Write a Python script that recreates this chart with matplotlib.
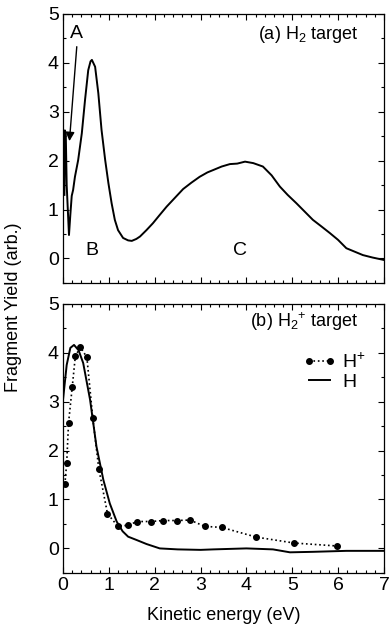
import numpy as np
import matplotlib.pyplot as plt
from matplotlib.ticker import MultipleLocator

plt.rcParams['font.family'] = ['Liberation Sans', 'DejaVu Sans']
plt.rcParams['mathtext.fontset'] = 'custom'
plt.rcParams['mathtext.rm'] = 'Liberation Sans'
plt.rcParams['mathtext.it'] = 'Liberation Sans:italic'
plt.rcParams['font.size'] = 12

# (a) H2 target: fragment yield vs kinetic energy
h2_energy = [0.03, 0.04, 0.06, 0.08, 0.13, 0.16, 0.19, 0.22, 0.26, 0.33, 0.41, 0.48,
             0.55, 0.60, 0.63, 0.70, 0.77, 0.84, 0.92, 0.99, 1.06, 1.13, 1.20,
             1.31, 1.42, 1.50, 1.60, 1.68, 1.82, 1.96, 2.10, 2.26, 2.45, 2.62,
             2.80, 2.98, 3.15, 3.28, 3.46, 3.64, 3.80, 3.97, 4.15, 4.36, 4.55,
             4.73, 4.90, 5.09, 5.27, 5.45, 5.63, 5.82, 6.00, 6.18, 6.36, 6.54,
             6.75, 7.00]
h2_yield = [1.30, 2.62, 2.55, 1.50, 0.48, 0.90, 1.28, 1.40, 1.67, 2.01, 2.56, 3.24,
            3.85, 4.03, 4.06, 3.92, 3.38, 2.63, 2.01, 1.54, 1.13, 0.79, 0.58,
            0.42, 0.37, 0.36, 0.40, 0.45, 0.58, 0.72, 0.88, 1.06, 1.25, 1.42,
            1.55, 1.67, 1.76, 1.81, 1.88, 1.93, 1.94, 1.98, 1.95, 1.88, 1.70,
            1.47, 1.30, 1.13, 0.96, 0.79, 0.66, 0.52, 0.38, 0.21, 0.14, 0.07,
            0.02, -0.03]

# (b) H2+ target: H+ fragments (points)
hp_energy = [0.04, 0.08, 0.12, 0.20, 0.27, 0.38, 0.52, 0.65, 0.78, 0.97, 1.19,
             1.41, 1.62, 1.91, 2.19, 2.48, 2.77, 3.09, 3.46, 4.22, 5.04, 5.97]
hp_yield = [1.31, 1.74, 2.56, 3.29, 3.94, 4.11, 3.91, 2.66, 1.63, 0.71, 0.46,
            0.47, 0.55, 0.55, 0.57, 0.57, 0.58, 0.45, 0.43, 0.23, 0.11, 0.05]

# (b) H2+ target: H fragments (line)
h_energy = [0.0, 0.08, 0.16, 0.24, 0.34, 0.44, 0.59, 0.73, 0.88, 1.02, 1.17,
            1.30, 1.42, 1.61, 1.82, 2.11, 2.50, 3.00, 3.28, 4.00, 4.58, 4.95,
            5.45, 6.18, 7.00]
h_yield = [3.04, 3.75, 4.10, 4.16, 4.05, 3.79, 3.04, 2.08, 1.40, 0.92, 0.55,
           0.35, 0.24, 0.17, 0.09, 0.00, -0.02, -0.03, -0.02, 0.00, -0.02, -0.08,
           -0.07, -0.05, -0.05]

fig = plt.figure(figsize=(3.89, 6.33), dpi=100)
ax1 = fig.add_axes([0.162, 0.553, 0.825, 0.425])
ax2 = fig.add_axes([0.162, 0.095, 0.825, 0.425])

for ax in (ax1, ax2):
    ax.set_xlim(0, 7)
    ax.set_ylim(-0.5, 5)
    ax.xaxis.set_major_locator(MultipleLocator(1))
    ax.xaxis.set_minor_locator(MultipleLocator(0.2))
    ax.yaxis.set_major_locator(MultipleLocator(1))
    ax.yaxis.set_minor_locator(MultipleLocator(0.5))
    ax.tick_params(which='both', direction='in', top=True, right=True, width=0.8)
    ax.tick_params(which='major', length=4, labelsize=14, pad=3)
    ax.tick_params(which='minor', length=2)
    for s in ax.spines.values():
        s.set_linewidth(0.9)

ax1.tick_params(labelbottom=False)

ax1.plot(h2_energy, h2_yield, color='black', lw=1.4)
ax1.text(6.45, 4.57, '(a) H$_2$ target', ha='right', va='center', fontsize=13)
ax1.text(0.3, 4.6, 'A', ha='center', va='center', fontsize=14)
ax1.annotate('', xy=(0.14, 2.40), xytext=(0.30, 4.33),
             arrowprops=dict(arrowstyle='-|>', color='black', lw=1.0,
                             mutation_scale=13, shrinkA=0, shrinkB=0))
ax1.text(0.62, 0.17, 'B', ha='center', va='center', fontsize=14)
ax1.text(3.86, 0.17, 'C', ha='center', va='center', fontsize=14)

ax2.plot(hp_energy, hp_yield, color='black', ls=':', lw=1.2, marker='o',
         markersize=4, label='H$^{+}$')
ax2.plot(h_energy, h_yield, color='black', lw=1.4, label='H')
ax2.text(6.45, 4.64, '(b) H$_{2}{}^{+}$ target', ha='right', va='center',
         fontsize=13)
ax2.legend(loc='upper right', bbox_to_anchor=(0.985, 0.87), frameon=False,
           fontsize=14, handlelength=1.7, handletextpad=0.3, labelspacing=0.1,
           numpoints=2, borderpad=0.2)

fig.text(0.575, 0.028, 'Kinetic energy (eV)', ha='center', va='center',
         fontsize=13)
fig.text(0.035, 0.515, 'Fragment Yield (arb.)', rotation=90, ha='center',
         va='center', fontsize=13)

fig.savefig('out.png', dpi=100)
